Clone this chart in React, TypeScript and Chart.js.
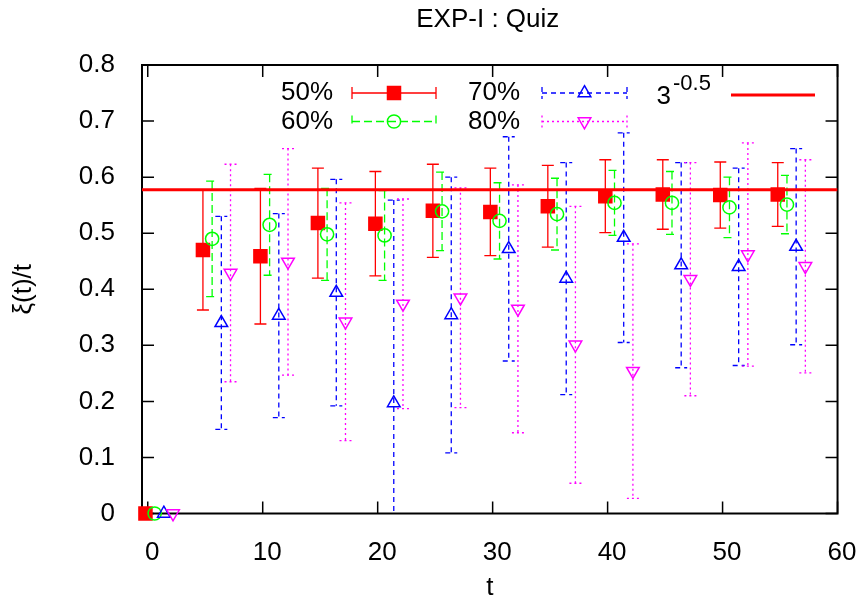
import React, { useEffect, useRef } from "react";
import { Chart, registerables } from "chart.js";

Chart.register(...registerables);

// ---------- data ----------
const T = [0, 5, 10, 15, 20, 25, 30, 35, 40, 45, 50, 55];
const SERIES_NAMES = ["50%", "60%", "70%", "80%"];
const SHIFT_50 = -0.2;
const SHIFT_60 = 0.6;
const SHIFT_70 = 1.4;
const SHIFT_80 = 2.2;

const Y_50 = [0, 0.470, 0.459, 0.518, 0.517, 0.540, 0.538, 0.548, 0.566, 0.569, 0.568, 0.569];
const E_50 = [0, 0.107, 0.121, 0.098, 0.093, 0.083, 0.078, 0.073, 0.065, 0.062, 0.059, 0.057];

const Y_60 = [0, 0.490, 0.515, 0.498, 0.496, 0.539, 0.522, 0.534, 0.554, 0.554, 0.546, 0.551];
const E_60 = [0, 0.103, 0.090, 0.082, 0.080, 0.070, 0.068, 0.064, 0.058, 0.056, 0.054, 0.052];

const Y_70 = [0, 0.340, 0.353, 0.394, 0.197, 0.354, 0.472, 0.419, 0.492, 0.443, 0.440, 0.476];
const E_70 = [0, 0.190, 0.182, 0.202, 0.362, 0.246, 0.200, 0.207, 0.187, 0.183, 0.176, 0.175];

const Y_80 = [0, 0.429, 0.449, 0.342, 0.374, 0.385, 0.365, 0.301, 0.254, 0.418, 0.462, 0.441];
const E_80 = [0, 0.194, 0.202, 0.212, 0.187, 0.196, 0.221, 0.247, 0.227, 0.208, 0.199, 0.190];

const REF_BASE = "3";
const REF_EXP = "-0.5";
const REF_LEVEL = Math.pow(3, -0.5);

const X_TICKS = [0, 10, 20, 30, 40, 50, 60];
const Y_TICKS = [0, 0.1, 0.2, 0.3, 0.4, 0.5, 0.6, 0.7, 0.8];
const X_MIN = -0.5;
const X_MAX = 60;
const Y_MIN = 0;
const Y_MAX = 0.8;

const TITLE = "EXP-I : Quiz";
const X_TITLE = "t";
const Y_TITLE = "ξ(t)/t";

// ---------- styles ----------
const FONT = "'Liberation Sans', Arial, Helvetica, sans-serif";
const RED = "#ff0000";
const GREEN = "#00ff00";
const BLUE = "#0000ff";
const MAGENTA = "#ff00ff";

type Style = {
  color: string;
  dash: number[];
  point: string;
  radius: number;
  rotation: number;
  fill: string | null;
};

const STYLES: Style[] = [
  { color: RED, dash: [], point: "rect", radius: 9.2, rotation: 0, fill: RED },
  { color: GREEN, dash: [8, 4], point: "circle", radius: 6.6, rotation: 0, fill: null },
  { color: BLUE, dash: [5, 4], point: "triangle", radius: 7.3, rotation: 0, fill: null },
  { color: MAGENTA, dash: [2, 3], point: "triangle", radius: 7.3, rotation: 180, fill: null },
];

function build(ys: number[], es: number[], shift: number) {
  return T.map((t, i) => ({ x: t + shift, y: ys[i], err: es[i] }));
}

function drawMarker(ctx: CanvasRenderingContext2D, st: Style, x: number, y: number) {
  ctx.save();
  ctx.beginPath();
  const r = st.radius;
  if (st.point === "rect") {
    const s = Math.SQRT1_2 * r;
    ctx.rect(x - s, y - s, 2 * s, 2 * s);
  } else if (st.point === "circle") {
    ctx.arc(x, y, r, 0, Math.PI * 2);
  } else {
    let a = (st.rotation * Math.PI) / 180;
    ctx.moveTo(x + Math.sin(a) * r, y - Math.cos(a) * r);
    a += (2 * Math.PI) / 3;
    ctx.lineTo(x + Math.sin(a) * r, y - Math.cos(a) * r);
    a += (2 * Math.PI) / 3;
    ctx.lineTo(x + Math.sin(a) * r, y - Math.cos(a) * r);
    ctx.closePath();
  }
  if (st.fill) {
    ctx.fillStyle = st.fill;
    ctx.fill();
  }
  ctx.setLineDash([]);
  ctx.lineWidth = 1.5;
  ctx.strokeStyle = st.color;
  ctx.stroke();
  ctx.restore();
}

const CAP = 6;

const errorBarPlugin = {
  id: "errorBars",
  beforeDatasetDraw(chart: any, args: any) {
    const ds = chart.data.datasets[args.index];
    if (ds.styleIndex === undefined) return;
    const st = STYLES[ds.styleIndex];
    const ctx: CanvasRenderingContext2D = chart.ctx;
    const xs = chart.scales.x;
    const ys = chart.scales.y;
    const ca = chart.chartArea;
    ctx.save();
    ctx.beginPath();
    ctx.rect(ca.left, ca.top, ca.right - ca.left, ca.bottom - ca.top);
    ctx.clip();
    ctx.strokeStyle = st.color;
    ctx.lineWidth = 1.3;
    ctx.setLineDash(st.dash);
    for (const p of ds.data) {
      if (!p.err) continue;
      const px = xs.getPixelForValue(p.x);
      const y1 = ys.getPixelForValue(p.y + p.err);
      const y2 = ys.getPixelForValue(p.y - p.err);
      ctx.beginPath();
      ctx.moveTo(px, y1);
      ctx.lineTo(px, y2);
      ctx.moveTo(px - CAP, y1);
      ctx.lineTo(px + CAP, y1);
      ctx.moveTo(px - CAP, y2);
      ctx.lineTo(px + CAP, y2);
      ctx.stroke();
    }
    ctx.restore();
  },
};

const framePlugin = {
  id: "frame",
  beforeDatasetsDraw(chart: any) {
    const ctx: CanvasRenderingContext2D = chart.ctx;
    const ca = chart.chartArea;
    const xs = chart.scales.x;
    const ys = chart.scales.y;
    ctx.save();
    ctx.strokeStyle = "#000";
    ctx.lineWidth = 1.5;
    const TL = 12;
    ctx.beginPath();
    for (const v of X_TICKS) {
      const px = xs.getPixelForValue(v);
      ctx.moveTo(px, ca.bottom);
      ctx.lineTo(px, ca.bottom - TL);
      ctx.moveTo(px, ca.top);
      ctx.lineTo(px, ca.top + TL);
    }
    for (const v of Y_TICKS) {
      const py = ys.getPixelForValue(v);
      ctx.moveTo(ca.left, py);
      ctx.lineTo(ca.left + TL, py);
      ctx.moveTo(ca.right, py);
      ctx.lineTo(ca.right - TL, py);
    }
    ctx.stroke();
    ctx.lineWidth = 2;
    ctx.strokeRect(ca.left, ca.top, ca.right - ca.left, ca.bottom - ca.top);
    ctx.restore();
  },
};

const textPlugin = {
  id: "texts",
  afterDraw(chart: any) {
    const ctx: CanvasRenderingContext2D = chart.ctx;
    const ca = chart.chartArea;
    ctx.save();
    ctx.fillStyle = "#000";
    ctx.font = `26px ${FONT}`;
    ctx.textAlign = "center";
    ctx.textBaseline = "middle";
    ctx.fillText(TITLE, (ca.left + ca.right) / 2 - 2, 20);
    ctx.fillText(X_TITLE, (ca.left + ca.right) / 2, 588);
    ctx.save();
    ctx.translate(24, (ca.top + ca.bottom) / 2);
    ctx.rotate(-Math.PI / 2);
    ctx.fillText(Y_TITLE, 0, 0);
    ctx.restore();

    // legend
    const rows = [ca.top + 28, ca.top + 56.5];
    const cols = [
      { textRight: 333, x1: 352, x2: 436 },
      { textRight: 520, x1: 542, x2: 627 },
    ];
    for (let i = 0; i < 4; i++) {
      const col = cols[Math.floor(i / 2)];
      const y = rows[i % 2];
      const st = STYLES[i];
      ctx.fillStyle = "#000";
      ctx.font = `26px ${FONT}`;
      ctx.textAlign = "right";
      ctx.textBaseline = "middle";
      ctx.fillText(SERIES_NAMES[i], col.textRight, y);
      ctx.save();
      ctx.strokeStyle = st.color;
      ctx.lineWidth = 1.3;
      ctx.setLineDash(st.dash);
      ctx.beginPath();
      ctx.moveTo(col.x1, y);
      ctx.lineTo(col.x2, y);
      ctx.moveTo(col.x1, y - CAP);
      ctx.lineTo(col.x1, y + CAP);
      ctx.moveTo(col.x2, y - CAP);
      ctx.lineTo(col.x2, y + CAP);
      ctx.stroke();
      ctx.restore();
      drawMarker(ctx, st, (col.x1 + col.x2) / 2, y);
    }
    // reference line legend
    const ry = rows[0];
    ctx.fillStyle = "#000";
    ctx.textBaseline = "alphabetic";
    ctx.textAlign = "right";
    ctx.font = `26px ${FONT}`;
    ctx.fillText(REF_BASE, 671, ry + 11);
    ctx.textAlign = "left";
    ctx.font = `22px ${FONT}`;
    ctx.fillText(REF_EXP, 673, ry - 3);
    ctx.strokeStyle = RED;
    ctx.lineWidth = 3;
    ctx.beginPath();
    ctx.moveTo(731, ry + 2);
    ctx.lineTo(815, ry + 2);
    ctx.stroke();
    ctx.restore();
  },
};

export default function App() {
  const ref = useRef<HTMLCanvasElement | null>(null);
  useEffect(() => {
    if (!ref.current) return;
    const seriesData = [
      build(Y_50, E_50, SHIFT_50),
      build(Y_60, E_60, SHIFT_60),
      build(Y_70, E_70, SHIFT_70),
      build(Y_80, E_80, SHIFT_80),
    ];
    const datasets: any[] = seriesData.map((data, i) => {
      const st = STYLES[i];
      return {
        type: "scatter",
        label: SERIES_NAMES[i],
        data,
        styleIndex: i,
        order: 10 - i,
        clip: false,
        showLine: false,
        pointStyle: st.point,
        pointRadius: st.radius,
        pointHoverRadius: st.radius,
        pointRotation: st.rotation,
        pointBorderWidth: 1.5,
        pointBorderColor: st.color,
        pointBackgroundColor: st.fill || "rgba(0,0,0,0)",
      };
    });
    datasets.push({
      type: "line",
      label: REF_BASE + "^" + REF_EXP,
      data: [
        { x: X_MIN, y: REF_LEVEL },
        { x: X_MAX, y: REF_LEVEL },
      ],
      order: 1,
      borderColor: RED,
      borderWidth: 3,
      pointRadius: 0,
      fill: false,
    });

    const chart = new Chart(ref.current, {
      type: "scatter",
      data: { datasets },
      options: {
        responsive: false,
        animation: false,
        devicePixelRatio: 1,
        events: [],
        layout: { padding: { top: 65, right: 20, left: 0, bottom: 0 } },
        plugins: {
          legend: { display: false },
          title: { display: false },
          tooltip: { enabled: false },
        },
        scales: {
          x: {
            type: "linear",
            min: X_MIN,
            max: X_MAX,
            afterBuildTicks: (s: any) => {
              s.ticks = X_TICKS.map((v) => ({ value: v }));
            },
            afterFit: (s: any) => {
              s.height = 86.5;
            },
            grid: { display: false },
            border: { display: false },
            ticks: {
              color: "#000",
              font: { family: FONT, size: 26 },
              padding: 16,
              labelOffset: 4.5,
              maxRotation: 0,
              autoSkip: false,
            },
          },
          y: {
            type: "linear",
            min: Y_MIN,
            max: Y_MAX,
            afterBuildTicks: (s: any) => {
              s.ticks = Y_TICKS.map((v) => ({ value: v }));
            },
            afterFit: (s: any) => {
              s.width = 142;
            },
            grid: { display: false },
            border: { display: false },
            ticks: {
              color: "#000",
              font: { family: FONT, size: 26 },
              padding: 19,
              autoSkip: false,
            },
          },
        },
      } as any,
      plugins: [framePlugin, errorBarPlugin, textPlugin],
    });
    return () => chart.destroy();
  }, []);

  return (
    <div style={{ position: "absolute", left: 0, top: 0, width: 868, height: 600, background: "#fff" }}>
      <canvas ref={ref} width={868} height={600} style={{ display: "block", width: 868, height: 600 }} />
    </div>
  );
}
